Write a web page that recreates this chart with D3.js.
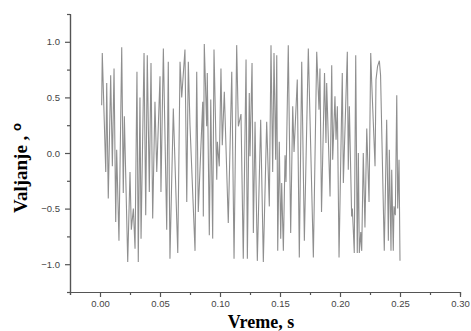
<!DOCTYPE html>
<html>
<head>
<meta charset="utf-8">
<script src="https://cdn.jsdelivr.net/npm/d3@7"></script>
<style>
  body { margin: 0; background: #fff; }
  .tick text { font-family: "Liberation Sans", Arial, sans-serif; font-size: 9.5px; fill: #444; }
  .domain, .tick line { stroke: #555; stroke-width: 1.2; }
</style>
</head>
<body>
<div id="chart"></div>
<script>
// time (s) and roll angle, peak to trough
var time = [0.0014, 0.0019, 0.0048, 0.0056, 0.0069, 0.0089, 0.0103, 0.0117, 0.0131, 0.0139,
  0.0158, 0.0181, 0.0194, 0.0203, 0.0231, 0.0250, 0.0261, 0.0278, 0.0292, 0.0308,
  0.0319, 0.0333, 0.0342, 0.0367, 0.0381, 0.0394, 0.0411, 0.0425, 0.0439, 0.0458,
  0.0473, 0.0500, 0.0508, 0.0528, 0.0556, 0.0569, 0.0583, 0.0611, 0.0648, 0.0667,
  0.0681, 0.0708, 0.0723, 0.0736, 0.0750, 0.0792, 0.0806, 0.0819, 0.0856, 0.0861,
  0.0869, 0.0889, 0.0894, 0.0911, 0.0923, 0.0939, 0.0950, 0.0973, 0.0978, 0.0994,
  0.1008, 0.1019, 0.1036, 0.1069, 0.1098, 0.1117, 0.1139, 0.1153, 0.1175, 0.1194,
  0.1217, 0.1228, 0.1244, 0.1250, 0.1267, 0.1278, 0.1292, 0.1311, 0.1339, 0.1361,
  0.1389, 0.1411, 0.1425, 0.1439, 0.1450, 0.1464, 0.1473, 0.1481, 0.1494, 0.1506,
  0.1514, 0.1528, 0.1542, 0.1550, 0.1569, 0.1589, 0.1606, 0.1617, 0.1644, 0.1661,
  0.1681, 0.1703, 0.1736, 0.1778, 0.1806, 0.1825, 0.1833, 0.1846, 0.1871, 0.1883,
  0.1889, 0.1917, 0.1931, 0.1939, 0.1958, 0.1967, 0.1978, 0.1992, 0.2019, 0.2028,
  0.2061, 0.2069, 0.2078, 0.2097, 0.2103, 0.2119, 0.2131, 0.2144, 0.2153, 0.2161,
  0.2173, 0.2181, 0.2194, 0.2208, 0.2223, 0.2242, 0.2256, 0.2264, 0.2292, 0.2300,
  0.2313, 0.2328, 0.2338, 0.2369, 0.2389, 0.2403, 0.2411, 0.2425, 0.2431, 0.2444,
  0.2450, 0.2461, 0.2473, 0.2481, 0.2492, 0.2500];
var roll = [0.43, 0.90, -0.17, 0.63, -0.41, 0.70, -0.12, 0.76, -0.62, 0.03,
  -0.79, 0.95, -0.36, 0.33, -0.98, -0.17, -0.69, -0.50, -0.86, 0.73,
  -0.98, 0.50, -0.77, 0.90, -0.56, 0.88, -0.35, 0.81, -0.59, 0.46,
  -0.17, 0.69, -0.35, 0.94, -0.69, 0.82, -0.95, 0.40, -0.90, 0.82,
  0.50, 0.93, -0.44, 0.82, 0.25, -0.88, 0.73, -0.53, 0.46, -0.57,
  0.98, 0.24, 0.72, -0.74, 0.48, -0.77, 0.93, -0.24, 0.10, -0.12,
  0.76, 0.07, 0.55, -0.63, 0.73, -0.95, 0.97, 0.24, 0.35, -0.95,
  0.84, -0.95, 0.54, -0.03, 0.81, -0.72, 0.28, -0.97, 0.30, -0.98,
  0.28, -0.48, 0.97, -0.17, 0.90, -0.06, 0.88, -0.88, 0.10, -0.77,
  -0.27, -0.88, -0.02, -0.26, 0.97, -0.72, 0.42, 0.01, 0.66, -0.94,
  0.82, -0.79, 0.94, -0.94, 0.91, 0.39, 0.76, -0.53, 0.72, 0.09,
  0.63, -0.39, 0.79, -0.06, 0.51, 0.12, 0.42, -0.94, 0.72, -0.27,
  0.91, -0.15, 0.42, -0.57, -0.50, -0.90, 0.88, -0.90, 0.00, -0.90,
  -0.71, -0.88, 0.00, -0.67, 0.22, -0.44, 0.90, 0.64, -0.12, 0.66,
  0.78, 0.83, 0.70, -0.88, 0.30, -0.79, 0.03, -0.88, -0.15, -0.88,
  -0.48, -0.56, 0.52, -0.50, -0.06, -0.97];

var xMajor = [0.00, 0.05, 0.10, 0.15, 0.20, 0.25, 0.30];
var xMinor = [-0.025, 0.025, 0.075, 0.125, 0.175, 0.225, 0.275];
var yMajor = [-1.0, -0.5, 0.0, 0.5, 1.0];
var yMinor = [-1.25, -0.75, -0.25, 0.25, 0.75, 1.25];

var W = 471, H = 331;
var margin = {left: 70, right: 11, top: 14, bottom: 39};

var svg = d3.select("#chart").append("svg")
    .attr("width", W).attr("height", H);

var x = d3.scaleLinear().domain([-0.025, 0.30]).range([margin.left, W - margin.right]);
var y = d3.scaleLinear().domain([-1.25, 1.25]).range([H - margin.bottom, margin.top]);

var data = time.map(function (t, i) { return {t: t, v: roll[i]}; });

// the signal
var line = d3.line()
    .x(function (d) { return x(d.t); })
    .y(function (d) { return y(d.v); });

svg.append("path")
    .datum(data)
    .attr("fill", "none")
    .attr("stroke", "#8f8f8f")
    .attr("stroke-width", 1.1)
    .attr("d", line);

// minor ticks first, then the labelled axes
svg.append("g")
    .attr("transform", "translate(0," + y.range()[0] + ")")
    .call(d3.axisBottom(x).tickValues(xMinor).tickSize(3).tickFormat(""));
svg.append("g")
    .attr("transform", "translate(" + x.range()[0] + ",0)")
    .call(d3.axisLeft(y).tickValues(yMinor).tickSize(3).tickFormat(""));

svg.append("g")
    .attr("transform", "translate(0," + y.range()[0] + ")")
    .call(d3.axisBottom(x).tickValues(xMajor).tickSize(5).tickSizeOuter(0).tickPadding(3)
        .tickFormat(d3.format(".2f")));
svg.append("g")
    .attr("transform", "translate(" + x.range()[0] + ",0)")
    .call(d3.axisLeft(y).tickValues(yMajor).tickSize(5).tickSizeOuter(0).tickPadding(5)
        .tickFormat(d3.format(".1f")));

// axis titles
svg.append("text")
    .attr("x", 261).attr("y", 328)
    .attr("text-anchor", "middle")
    .style("font-family", "'Liberation Serif', 'Times New Roman', serif")
    .style("font-weight", "bold")
    .style("font-size", "18px")
    .text("Vreme, s");

var yt = svg.append("text")
    .attr("transform", "translate(27,168) rotate(-90)")
    .attr("text-anchor", "middle")
    .style("font-family", "'Liberation Serif', 'Times New Roman', serif")
    .style("font-weight", "bold")
    .style("font-size", "19px");
yt.append("tspan").text("Valjanje , ");
yt.append("tspan")
    .attr("dy", -6)
    .style("font-family", "'Liberation Sans', Arial, sans-serif")
    .style("font-size", "13px")
    .text("o");
</script>
</body>
</html>
